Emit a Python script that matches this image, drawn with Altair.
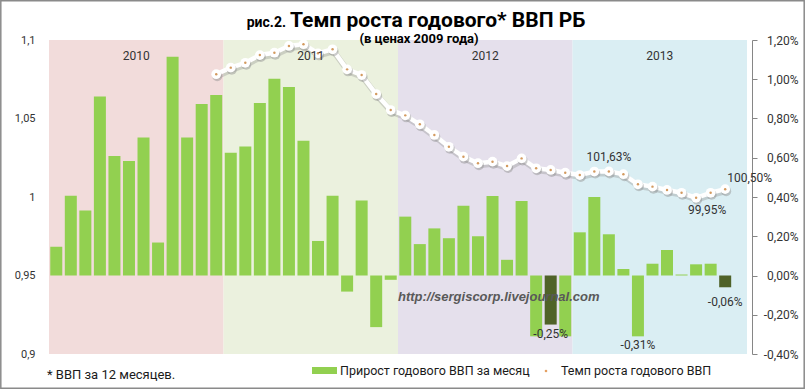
import altair as alt
import pandas as pd

FONT = "Roboto"
TXT = "#333333"

years = ["2010", "2011", "2012", "2013"]
year_colors = ["#F2DCDB", "#EBF1DE", "#E5E0EC", "#DAEEF3"]
months = [f"{y}-{m:02d}" for y in years for m in range(1, 13)]

# monthly increment of annual GDP, % (Jan 2010 .. Nov 2013)
bar_values = [0.147, 0.406, 0.331, 0.912, 0.609, 0.584, 0.703, 0.168, 1.115, 0.703, 0.874, 0.920,
              0.626, 0.657, 0.879, 1.002, 0.961, 0.687, 0.176, 0.406, -0.082, 0.382, -0.263, -0.022,
              0.300, 0.160, 0.240, 0.190, 0.355, 0.200, 0.405, 0.080, 0.380, -0.310, -0.250, -0.310,
              0.220, 0.400, 0.210, 0.033, -0.310, 0.060, 0.130, 0.005, 0.057, 0.060, -0.060]
dark_months = ["2012-11", "2013-11"]
bar_label_text = {"2012-11": "-0,25%", "2013-05": "-0,31%", "2013-11": "-0,06%"}

# growth rate of annual GDP (ratio), Dec 2010 .. Nov 2013
line_months = months[11:47]
line_values = [1.0782, 1.0824, 1.0855, 1.0904, 1.0919, 1.0962, 1.0973, 1.0915, 1.0941, 1.0813,
               1.0777, 1.0656, 1.0554, 1.0520, 1.0463, 1.0395, 1.0320, 1.0257, 1.0215, 1.0225,
               1.0197, 1.0246, 1.0183, 1.0172, 1.0155, 1.0140, 1.0162, 1.0163, 1.0145, 1.0081,
               1.0066, 1.0045, 1.0027, 0.9995, 1.0027, 1.0050]
line_label_text = {"2013-03": "101,63%", "2013-09": "99,95%", "2013-11": "100,50%"}

right_ticks = [-0.4, -0.2, 0.0, 0.2, 0.4, 0.6, 0.8, 1.0, 1.2]
left_ticks = [0.9, 0.95, 1.0, 1.05, 1.1]

bars_df = pd.DataFrame({"month": months[:len(bar_values)], "value": bar_values})
bars_df["i"] = range(len(bars_df))
bars_df["kind"] = ["dark" if m in dark_months else "normal" for m in bars_df["month"]]
bars_df["label"] = [bar_label_text.get(m, "") for m in bars_df["month"]]

line_df = pd.DataFrame({"month": line_months, "value": line_values})
line_df["i"] = [months.index(m) for m in line_months]
line_df["label"] = [line_label_text.get(m, "") for m in line_months]

years_df = pd.DataFrame({"year": years, "color": year_colors})
years_df["start"] = [12 * k for k in range(len(years))]

W, H = 708, 314
xscale = alt.Scale(domain=[0, 48], nice=False, zero=False)

right_axis = alt.Axis(
    orient="right", values=right_ticks, title=None, grid=False,
    labelExpr="replace(replace(format(datum.value, '.2f'), '.', ','), '\u2212', '-') + '%'",
    domain=True, domainColor="#868686", tickColor="#868686", tickSize=5,
    labelAlign="right", labelPadding=41, labelFont=FONT, labelFontSize=12, labelColor=TXT,
)
left_axis = alt.Axis(
    orient="left", values=left_ticks, title=None, grid=False, domain=False,
    ticks=False, tickSize=0, labelPadding=9,
    labelExpr="replace(format(datum.value, '~g'), '.', ',')",
    labelFont=FONT, labelFontSize=11, labelColor=TXT,
)
yr = alt.Scale(domain=[-0.4, 1.2], nice=False, zero=True)
yl = alt.Scale(domain=[0.9, 1.1], nice=False, zero=False)

one = pd.DataFrame({"a": [0]})

frame = alt.Chart(one).mark_rect(fillOpacity=0, stroke="#8a8a8a", strokeWidth=1.5).encode(
    x=alt.value(-43.2), x2=alt.value(760.2), y=alt.value(-39.2), y2=alt.value(348.2))

bands = alt.Chart(years_df).transform_calculate(end="datum.start + 12").mark_rect().encode(
    x=alt.X("start:Q", scale=xscale, axis=None), x2="end:Q",
    y=alt.value(0), y2=alt.value(H),
    color=alt.Color("year:N", scale=alt.Scale(domain=years, range=year_colors), legend=None))

year_text = alt.Chart(years_df).transform_calculate(mid="datum.start + 6").mark_text(
    font=FONT, fontSize=12, color=TXT, baseline="middle").encode(
    x=alt.X("mid:Q", scale=xscale, axis=None), y=alt.value(16), text="year:N")

bar_base = alt.Chart(bars_df).transform_calculate(pos="datum.i + 0.5")
bars = bar_base.mark_bar(size=12).encode(
    x=alt.X("pos:Q", scale=xscale, axis=None),
    y=alt.Y("value:Q", scale=yr, axis=right_axis),
    color=alt.condition("datum.kind == 'dark'", alt.value("#4F6228"), alt.value("#92D050")))
bar_lab1 = bar_base.transform_filter("datum.label != '' && datum.month != '2013-11'").mark_text(
    font=FONT, fontSize=12, color=TXT, baseline="middle", dy=9).encode(
    x=alt.X("pos:Q", scale=xscale, axis=None),
    y=alt.Y("value:Q", scale=yr, axis=right_axis), text="label:N")
bar_lab2 = bar_base.transform_filter("datum.month == '2013-11'").mark_text(
    font=FONT, fontSize=12, color=TXT, baseline="middle", dy=15).encode(
    x=alt.X("pos:Q", scale=xscale, axis=None),
    y=alt.Y("value:Q", scale=yr, axis=right_axis), text="label:N")
bar_layer = alt.layer(bars, bar_lab1, bar_lab2)

lb = alt.Chart(line_df).transform_calculate(pos="datum.i + 0.5")
enc = dict(x=alt.X("pos:Q", scale=xscale, axis=None), y=alt.Y("value:Q", scale=yl, axis=left_axis))
l_shadow = lb.mark_line(color="#8f8f8f", opacity=0.35, strokeWidth=6, xOffset=1, yOffset=2,
                        strokeJoin="round", strokeCap="round").encode(**enc)
l_line = lb.mark_line(color="white", strokeWidth=4.5, strokeJoin="round",
                      strokeCap="round").encode(**enc)
c_shadow = lb.mark_circle(color="#8f8f8f", opacity=0.45, size=100, xOffset=1, yOffset=2).encode(**enc)
c_white = lb.mark_circle(color="white", opacity=1, size=95).encode(**enc)
c_dot = lb.mark_circle(color="#D39A5F", opacity=1, size=6).encode(**enc)
lab_a = lb.transform_filter("datum.month == '2013-03'").mark_text(
    font=FONT, fontSize=12, color=TXT, baseline="middle", dy=-14).encode(text="label:N", **enc)
lab_b = lb.transform_filter("datum.month == '2013-09'").mark_text(
    font=FONT, fontSize=12, color=TXT, baseline="middle", dx=11, dy=12).encode(text="label:N", **enc)
lab_c = lb.transform_filter("datum.month == '2013-11'").mark_text(
    font=FONT, fontSize=12, color=TXT, baseline="middle", align="left", dx=2, dy=-11).encode(text="label:N", **enc)
line_layer = alt.layer(l_shadow, l_line, c_shadow, c_white, c_dot, lab_a, lab_b, lab_c)


def label(text, x, y, **kw):
    props = dict(font=FONT, fontSize=12, color=TXT, baseline="middle", align="left")
    props.update(kw)
    return alt.Chart(one).mark_text(text=text, **props).encode(x=alt.value(x), y=alt.value(y))


title_small = label("рис.2.", 242, -13, fontSize=14, fontWeight="bold", align="right",
                    baseline="alphabetic", color="#000000")
title_big = label("Темп роста годового* ВВП РБ", 246, -13, fontSize=21, fontWeight="bold",
                  baseline="alphabetic", color="#000000")
subtitle = label("(в ценах 2009 года)", 375, -1, fontSize=13, fontWeight="bold",
                 align="center", color="#000000")
url = label("http://sergiscorp.livejournal.com", 354, 257, font="Liberation Sans", fontSize=13,
            fontWeight="bold", fontStyle="italic", color="#595959")
foot = label("* ВВП за 12 месяцев.", 3, 335, fontSize=13, color="#1a1a1a")
leg_rect = alt.Chart(one).mark_rect(color="#92D050").encode(
    x=alt.value(268), x2=alt.value(293), y=alt.value(327), y2=alt.value(334))
leg_t1 = label("Прирост годового ВВП за месяц", 296, 331, fontSize=12.5, color="#1a1a1a")
leg_dot = alt.Chart(one).mark_circle(color="#E4A062", size=7, opacity=1).encode(
    x=alt.value(502), y=alt.value(331))
leg_t2 = label("Темп роста годового ВВП", 517, 331, fontSize=12.5, color="#1a1a1a")

chart = alt.layer(
    bands, frame, bar_layer, url, line_layer, year_text,
    title_small, title_big, subtitle, foot, leg_rect, leg_t1, leg_dot, leg_t2,
).resolve_scale(y="independent").properties(
    width=W, height=H,
    autosize=alt.AutoSizeParams(type="none"),
    padding={"left": 44, "top": 40, "right": 53, "bottom": 35},
    background="white",
).configure_view(strokeWidth=0)

chart.save("out.html", embed_options={"renderer": "svg", "actions": False})
